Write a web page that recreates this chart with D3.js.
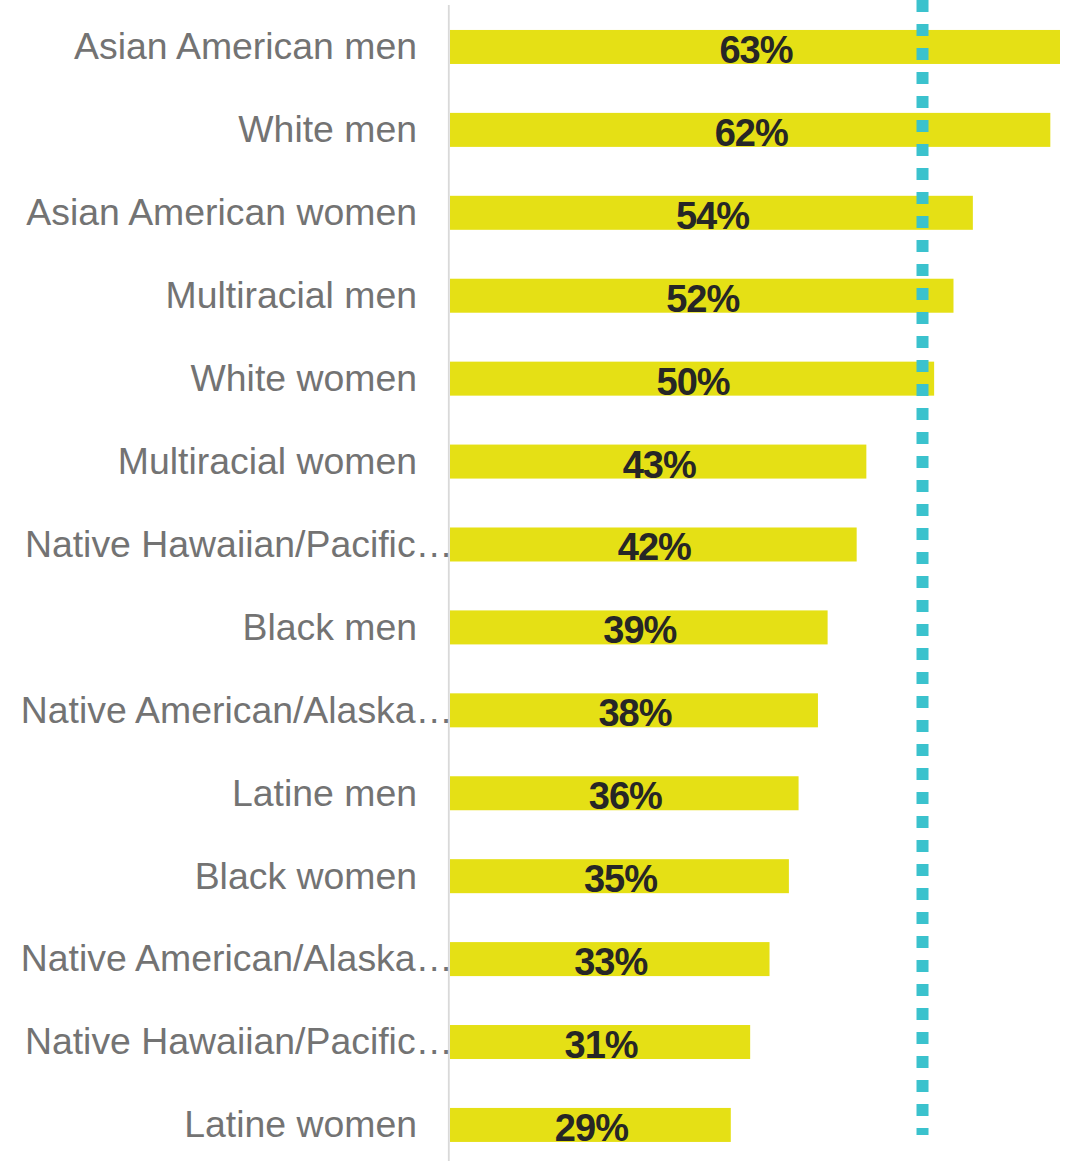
<!DOCTYPE html>
<html>
<head>
<meta charset="utf-8">
<script src="https://cdn.jsdelivr.net/npm/d3@7"></script>
<style>
  html, body { margin: 0; padding: 0; background: #fff; }
  svg { display: block; }
</style>
</head>
<body>
<svg id="chart" width="1076" height="1161"></svg>
<script>
// ---- data ----
const categories = [
  "Asian American men",
  "White men",
  "Asian American women",
  "Multiracial men",
  "White women",
  "Multiracial women",
  "Native Hawaiian/Pacific Islander men",
  "Black men",
  "Native American/Alaskan Native men",
  "Latine men",
  "Black women",
  "Native American/Alaskan Native women",
  "Native Hawaiian/Pacific Islander women",
  "Latine women"
];
const displayLabels = [
  "Asian American men",
  "White men",
  "Asian American women",
  "Multiracial men",
  "White women",
  "Multiracial women",
  "Native Hawaiian/Pacific…",
  "Black men",
  "Native American/Alaska…",
  "Latine men",
  "Black women",
  "Native American/Alaska…",
  "Native Hawaiian/Pacific…",
  "Latine women"
];
const values = [63, 62, 54, 52, 50, 43, 42, 39, 38, 36, 35, 33, 31, 29];
const referenceValue = 48.8;

// ---- layout ----
const svg = d3.select("#chart");
const x0 = 450;
const x = d3.scaleLinear().domain([0, 63]).range([x0, 1060]);
const y = d3.scaleBand()
  .domain(categories)
  .range([5.5, 1166.4])
  .paddingInner(0.59)
  .paddingOuter(0.295);

// axis line
svg.append("line")
  .attr("x1", x0 - 1.2).attr("x2", x0 - 1.2)
  .attr("y1", 5).attr("y2", 1161)
  .attr("stroke", "#d9d9d9")
  .attr("stroke-width", 1.8);

// bars
svg.append("g").selectAll("rect")
  .data(categories)
  .join("rect")
  .attr("x", x(0))
  .attr("y", d => y(d))
  .attr("width", (d, i) => x(values[i]) - x(0))
  .attr("height", y.bandwidth())
  .attr("fill", "#e5e015");

// category labels
svg.append("g").selectAll("text")
  .data(categories)
  .join("text")
  .attr("x", (d, i) => displayLabels[i].endsWith("…") ? 453 : 417)
  .attr("y", d => y(d) + y.bandwidth() / 2)
  .attr("dy", "0.33em")
  .attr("text-anchor", "end")
  .attr("font-family", "Liberation Sans, Arial, sans-serif")
  .attr("font-size", 37.4)
  .attr("fill", "#737373")
  .text((d, i) => displayLabels[i]);

// reference dotted line
svg.append("line")
  .attr("x1", x(referenceValue)).attr("x2", x(referenceValue))
  .attr("y1", 0).attr("y2", 1135)
  .attr("stroke", "#3bc2cd")
  .attr("stroke-width", 12)
  .attr("stroke-dasharray", "12,12");

// value labels
svg.append("g").selectAll("text")
  .data(categories)
  .join("text")
  .attr("x", (d, i) => (x(0) + x(values[i])) / 2 + 1)
  .attr("y", d => y(d) + y.bandwidth() / 2 + 16)
  .attr("text-anchor", "middle")
  .attr("font-family", "Liberation Sans, Arial, sans-serif")
  .attr("font-weight", "bold")
  .attr("font-size", 38)
  .attr("letter-spacing", -1)
  .attr("fill", "#262626")
  .text((d, i) => values[i] + "%");
</script>
</body>
</html>
